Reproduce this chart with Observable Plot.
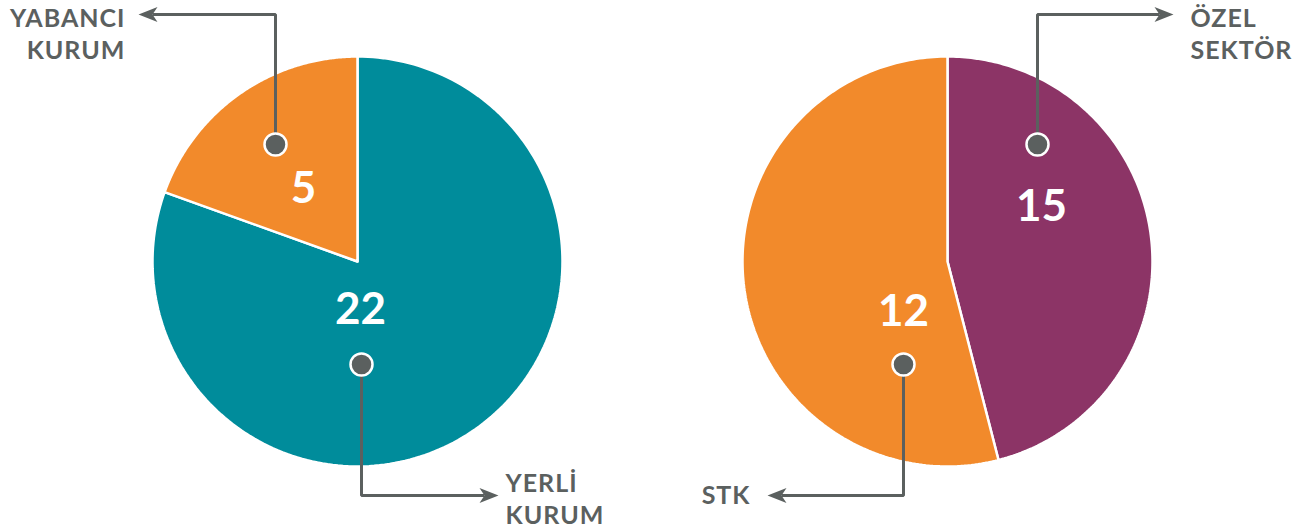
<!DOCTYPE html>
<html><head><meta charset="utf-8">
<script src="https://cdn.jsdelivr.net/npm/d3@7"></script>
<script src="https://cdn.jsdelivr.net/npm/@observablehq/plot@0.6"></script>
<style>html,body{margin:0;padding:0;background:#fff}</style>
</head><body><div id="chart"></div>
<script>
// ---- data ----
const leftCategories = ["YERLİ KURUM", "YABANCI KURUM"];
const leftValues = [22, 5];
const rightCategories = ["ÖZEL SEKTÖR", "STK"];
const rightValues = [15, 12];
// slice shares as they appear in the reference picture
const leftDrawnShares = [0.805, 0.195];
const rightDrawnShares = [0.46, 0.54];
const sliceColors = ["#008C9B", "#F28A2B", "#8C3466", "#F28A2B"];

// ---- layout ----
const W = 1298, H = 531, R = 205;
const GRAY = "#5B605F";
const FONT = "Lato, 'Open Sans', sans-serif";
const pies = [
  {cx: 357, cy: 261, cats: leftCategories, vals: leftValues, shares: leftDrawnShares, colors: [sliceColors[0], sliceColors[1]],
   ann: [
     {num: [3, 48], dot: [4, 103], elbowY: 234, tipX: 141, labelX: 148, labelY: 222, anchor: "start"},
     {num: [-54, -73], dot: [-82, -117], elbowY: -247, tipX: -219, labelX: -232, labelY: -243, anchor: "end"}
   ]},
  {cx: 947, cy: 261, cats: rightCategories, vals: rightValues, shares: rightDrawnShares, colors: [sliceColors[2], sliceColors[3]],
   ann: [
     {num: [94, -55], dot: [90, -117], elbowY: -247, tipX: 226, labelX: 243, labelY: -243, anchor: "start"},
     {num: [-44, 50], dot: [-44, 103], elbowY: 234, tipX: -180, labelX: -197, labelY: 234, anchor: "end"}
   ]}
];

const slicePts = [], leaderPts = [], arrowPts = [], dots = [], nums = [], labels = [];
pies.forEach((p, pi) => {
  const arcs = d3.pie().sort(null).startAngle(0).endAngle(2 * Math.PI)(p.shares);
  arcs.forEach((a, i) => {
    const key = pi + "-" + i;
    const color = p.colors[i];
    slicePts.push({key, x: p.cx, y: p.cy, color});
    const n = 200;
    for (let k = 0; k <= n; k++) {
      const t = a.startAngle + (a.endAngle - a.startAngle) * k / n;
      slicePts.push({key, x: p.cx + R * Math.sin(t), y: p.cy - R * Math.cos(t), color});
    }
    slicePts.push({key, x: p.cx, y: p.cy, color});

    const an = p.ann[i];
    const dx = p.cx + an.dot[0], dy = p.cy + an.dot[1];
    const ey = p.cy + an.elbowY, tx = p.cx + an.tipX;
    const dir = Math.sign(an.tipX - an.dot[0]);
    const headLen = 19, headHalf = 7.5, notch = 14;
    leaderPts.push({key, x: dx, y: dy}, {key, x: dx, y: ey}, {key, x: tx - dir * notch, y: ey});
    arrowPts.push(
      {key, x: tx, y: ey},
      {key, x: tx - dir * headLen, y: ey - headHalf},
      {key, x: tx - dir * notch, y: ey},
      {key, x: tx - dir * headLen, y: ey + headHalf},
      {key, x: tx, y: ey}
    );
    dots.push({x: dx, y: dy});
    nums.push({x: p.cx + an.num[0], y: p.cy + an.num[1], text: String(p.vals[i])});
    p.cats[i].split(" ").forEach((w, li) => {
      labels.push({x: p.cx + an.labelX, y: p.cy + an.labelY + li * 32, text: w, anchor: an.anchor});
    });
  });
});

const plot = Plot.plot({
  width: W, height: H,
  margin: 0,
  x: {domain: [0, W], range: [0, W], axis: null},
  y: {domain: [0, H], range: [0, H], axis: null},
  color: {type: "identity"},
  style: {background: "#fff", fontFamily: FONT},
  marks: [
    Plot.line(slicePts, {x: "x", y: "y", z: "key", fill: "color", stroke: "white", strokeWidth: 2.5, curve: "linear", strokeLinejoin: "miter"}),
    Plot.line(leaderPts, {x: "x", y: "y", z: "key", stroke: GRAY, strokeWidth: 3, curve: "linear", strokeLinejoin: "miter", strokeLinecap: "butt"}),
    Plot.line(arrowPts, {x: "x", y: "y", z: "key", fill: GRAY, stroke: "none", curve: "linear"}),
    Plot.dot(dots, {x: "x", y: "y", r: 11, fill: GRAY, stroke: "white", strokeWidth: 2.5}),
    Plot.text(nums, {x: "x", y: "y", text: "text", fill: "white", fontSize: 44, fontWeight: "bold", fontFamily: FONT, lineAnchor: "middle"}),
    Plot.text(labels.filter(d => d.anchor === "start"), {x: "x", y: "y", text: "text", fill: GRAY, fontSize: 25, fontWeight: "bold", fontFamily: FONT, textAnchor: "start", lineAnchor: "middle"}),
    Plot.text(labels.filter(d => d.anchor === "end"), {x: "x", y: "y", text: "text", fill: GRAY, fontSize: 25, fontWeight: "bold", fontFamily: FONT, textAnchor: "end", lineAnchor: "middle"})
  ]
});
d3.select(plot).selectAll("g[aria-label='text']")
  .filter(function() { return this.getAttribute("fill") === GRAY; })
  .style("letter-spacing", "1px");
document.getElementById("chart").appendChild(plot);
</script>
</body></html>
